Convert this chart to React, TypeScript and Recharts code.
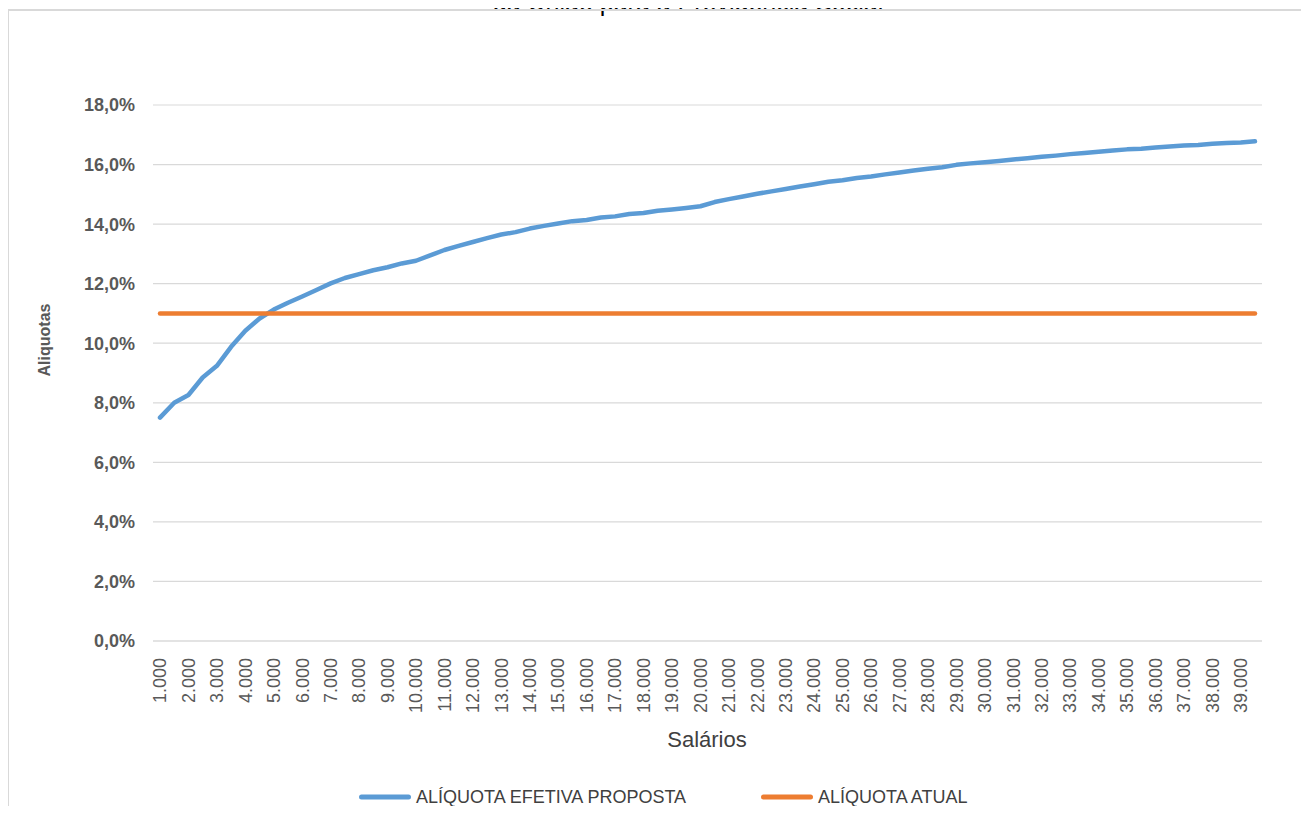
import React from 'react';
import { LineChart, Line, XAxis, YAxis, CartesianGrid } from 'recharts';

// salário em R$ (passo de 500)
const salarios = [
  1000, 1500, 2000, 2500, 3000, 3500, 4000, 4500, 5000, 5500,
  6000, 6500, 7000, 7500, 8000, 8500, 9000, 9500, 10000, 10500,
  11000, 11500, 12000, 12500, 13000, 13500, 14000, 14500, 15000, 15500,
  16000, 16500, 17000, 17500, 18000, 18500, 19000, 19500, 20000, 20500,
  21000, 21500, 22000, 22500, 23000, 23500, 24000, 24500, 25000, 25500,
  26000, 26500, 27000, 27500, 28000, 28500, 29000, 29500, 30000, 30500,
  31000, 31500, 32000, 32500, 33000, 33500, 34000, 34500, 35000, 35500,
  36000, 36500, 37000, 37500, 38000, 38500, 39000, 39500,
];

// alíquota efetiva proposta (%)
const aliquotaProposta = [
  7.50, 8.00, 8.26, 8.85, 9.24, 9.88, 10.42, 10.83, 11.13, 11.36,
  11.57, 11.79, 12.01, 12.19, 12.32, 12.45, 12.55, 12.68, 12.77, 12.95,
  13.13, 13.27, 13.40, 13.53, 13.65, 13.73, 13.85, 13.94, 14.02, 14.10,
  14.14, 14.22, 14.26, 14.34, 14.37, 14.45, 14.49, 14.54, 14.60, 14.74,
  14.84, 14.93, 15.02, 15.10, 15.18, 15.26, 15.34, 15.42, 15.47, 15.55,
  15.60, 15.67, 15.73, 15.80, 15.86, 15.91, 15.99, 16.04, 16.08, 16.12,
  16.17, 16.21, 16.26, 16.30, 16.35, 16.39, 16.43, 16.47, 16.51, 16.53,
  16.57, 16.61, 16.64, 16.66, 16.70, 16.72, 16.74, 16.78,
];

// alíquota atual (%)
const aliquotaAtual = [
  11, 11, 11, 11, 11, 11, 11, 11, 11, 11,
  11, 11, 11, 11, 11, 11, 11, 11, 11, 11,
  11, 11, 11, 11, 11, 11, 11, 11, 11, 11,
  11, 11, 11, 11, 11, 11, 11, 11, 11, 11,
  11, 11, 11, 11, 11, 11, 11, 11, 11, 11,
  11, 11, 11, 11, 11, 11, 11, 11, 11, 11,
  11, 11, 11, 11, 11, 11, 11, 11, 11, 11,
  11, 11, 11, 11, 11, 11, 11, 11,
];

const yTicks = [0, 2, 4, 6, 8, 10, 12, 14, 16, 18];

const data = salarios.map((s, i) => ({
  salario: s,
  proposta: aliquotaProposta[i],
  atual: aliquotaAtual[i],
}));

const FONT = "'Liberation Sans Narrow', 'Liberation Sans', Arial, sans-serif";
const BLUE = '#5B9BD5';
const ORANGE = '#ED7D31';

const fmtSalario = (n: number) =>
  `${Math.floor(n / 1000)}.${String(n % 1000).padStart(3, '0')}`;

const fmtPct = (v: number) => `${v.toFixed(1).replace('.', ',')}%`;

const SalarioTick = (props: any) => {
  const { x, y, payload } = props;
  return (
    <text
      x={x}
      y={y}
      dy="0.35em"
      textAnchor="end"
      transform={`rotate(-90, ${x}, ${y})`}
      fill="#595959"
      fontSize={18}
      fontFamily={FONT}
    >
      {fmtSalario(payload.value)}
    </text>
  );
};

const LegendItem = ({ color, label }: { color: string; label: string }) => (
  <div style={{ display: 'flex', alignItems: 'center' }}>
    <div style={{ width: 52, height: 5, borderRadius: 3, background: color, marginRight: 5 }} />
    <span>{label}</span>
  </div>
);

export default function App() {
  return (
    <div
      style={{
        position: 'relative',
        margin: -8,
        width: 1309,
        height: 814,
        overflow: 'hidden',
        background: '#fff',
        fontFamily: FONT,
      }}
    >
      {/* título do gráfico, cortado no topo como no original */}
      <div
        style={{
          position: 'absolute',
          top: -12,
          left: 0,
          width: 1376,
          textAlign: 'center',
          fontSize: 25,
          lineHeight: '28px',
          color: '#000',
        }}
      >
        da União para a Previdência Social
      </div>
      <div
        style={{
          position: 'absolute',
          left: 7,
          top: 9,
          width: 1320,
          height: 830,
          border: '2px solid #d9d9d9',
          boxSizing: 'border-box',
        }}
      />
      <div style={{ position: 'absolute', left: 0, top: 0 }}>
        <LineChart
          width={1309}
          height={814}
          data={data}
          margin={{ top: 105, right: 47, left: 93, bottom: 43 }}
        >
          <CartesianGrid vertical={false} stroke="#d9d9d9" strokeWidth={1.2} />
          <XAxis
            dataKey="salario"
            interval={1}
            height={130}
            padding={{ left: 7, right: 7 }}
            axisLine={{ stroke: '#d9d9d9', strokeWidth: 1.2 }}
            tickLine={false}
            tickSize={6}
            tickMargin={11}
            tick={<SalarioTick />}
          />
          <YAxis
            width={60}
            domain={[0, 18]}
            ticks={yTicks}
            tickFormatter={fmtPct}
            axisLine={false}
            tickLine={false}
            tickSize={6}
            tickMargin={12}
            tick={{ fill: '#595959', fontSize: 18, fontWeight: 700, fontFamily: FONT }}
          />
          <Line
            type="linear"
            dataKey="proposta"
            stroke={BLUE}
            strokeWidth={4.5}
            strokeLinecap="round"
            strokeLinejoin="round"
            dot={false}
            isAnimationActive={false}
          />
          <Line
            type="linear"
            dataKey="atual"
            stroke={ORANGE}
            strokeWidth={4.5}
            strokeLinecap="round"
            dot={false}
            isAnimationActive={false}
          />
        </LineChart>
      </div>
      <div
        style={{
          position: 'absolute',
          left: 45,
          top: 340,
          transform: 'translate(-50%, -50%) rotate(-90deg)',
          fontSize: 16,
          fontWeight: 700,
          color: '#595959',
          whiteSpace: 'nowrap',
        }}
      >
        Aliquotas
      </div>
      <div
        style={{
          position: 'absolute',
          left: 707,
          top: 740,
          transform: 'translate(-50%, -50%)',
          fontSize: 22,
          color: '#404040',
          whiteSpace: 'nowrap',
        }}
      >
        Salários
      </div>
      <div
        style={{
          position: 'absolute',
          left: 359,
          top: 797,
          transform: 'translateY(-50%)',
          display: 'flex',
          gap: 75,
          fontSize: 18,
          color: '#404040',
          whiteSpace: 'nowrap',
        }}
      >
        <LegendItem color={BLUE} label="ALÍQUOTA EFETIVA PROPOSTA" />
        <LegendItem color={ORANGE} label="ALÍQUOTA ATUAL" />
      </div>
    </div>
  );
}
